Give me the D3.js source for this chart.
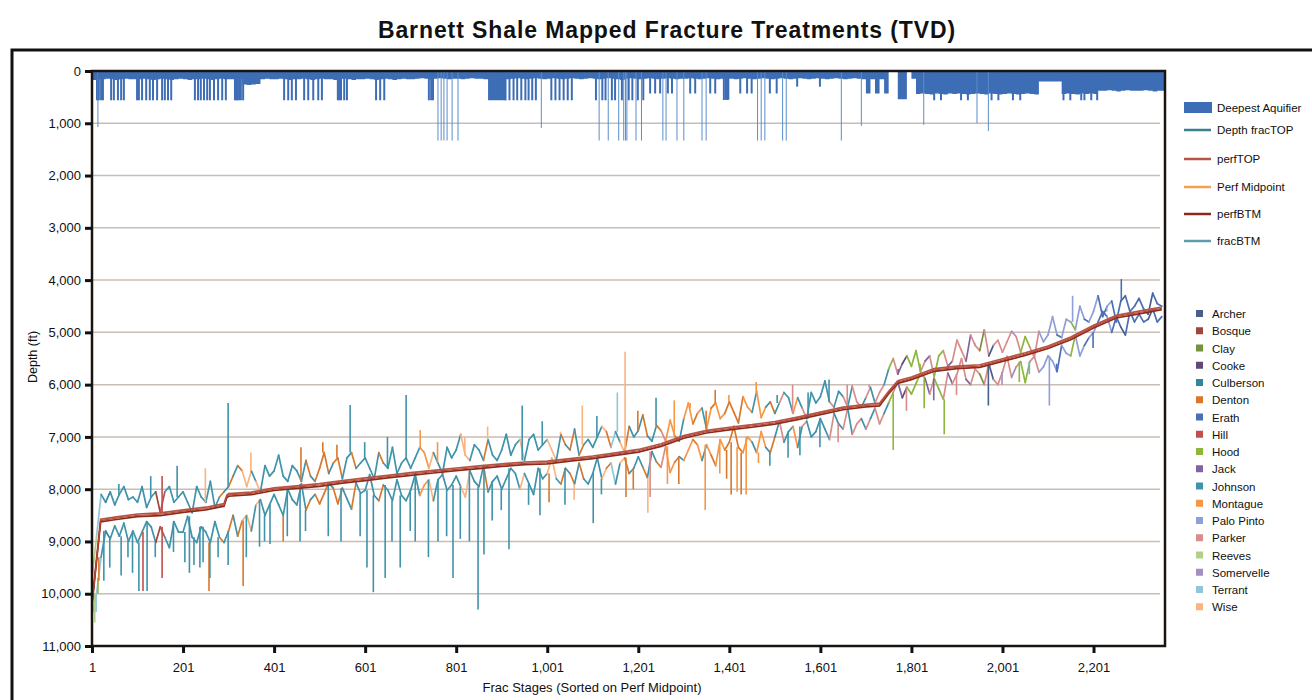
<!DOCTYPE html>
<html><head><meta charset="utf-8">
<script src="https://cdn.jsdelivr.net/npm/d3@7"></script>
<style>body{margin:0;background:#fff;} text{font-family:"Liberation Sans",Arial,Helvetica,sans-serif;fill:#111;}</style>
</head><body><svg id="c" width="1312" height="700"></svg>
<script>
// ---------- DATA ----------
const yTicks = [0,1000,2000,3000,4000,5000,6000,7000,8000,9000,10000,11000];
const xTicks = [1,201,401,601,801,1001,1201,1401,1601,1801,2001,2201];

const seriesNames = ["Deepest Aquifier","Depth fracTOP","perfTOP","Perf Midpoint","perfBTM","fracBTM"];
const seriesColors = ["#3d6db5","#3b7f8e","#b5554a","#f5a04f","#8b2a1a","#5e9caa"];

const countyNames = ["Archer","Bosque","Clay","Cooke","Culberson","Denton","Erath","Hill","Hood","Jack","Johnson","Montague","Palo Pinto","Parker","Reeves","Somervelle","Terrant","Wise"];
const countyCodes = ["A","B","C","K","U","D","E","H","O","J","N","M","P","R","V","S","T","W"];
const countyColors = ["#4a5e8c","#a0453a","#76923c","#5f497a","#31859c","#d8782d","#4a6fb5","#c0504d","#8cb63c","#8064a2","#3f93ab","#f79646","#8f9fd8","#d98d8a","#b3cf8a","#a38fc2","#93c5d8","#f9b47f"];

// perforation lines (stage, depth ft)
const perfStages = [1,8,20,51,101,151,201,251,291,297,301,351,401,451,501,551,601,651,701,751,801,851,901,951,1001,1051,1101,1151,1201,1251,1301,1351,1401,1451,1501,1551,1601,1651,1701,1731,1751,1771,1801,1851,1901,1951,2001,2051,2101,2151,2201,2251,2301,2351];
const perfMid = [10200,9600,8600,8560,8500,8480,8420,8370,8300,8140,8110,8080,8000,7960,7920,7860,7810,7760,7710,7665,7620,7580,7540,7505,7490,7440,7390,7330,7265,7155,7000,6900,6840,6790,6730,6645,6550,6455,6400,6380,6150,5950,5880,5720,5670,5645,5530,5415,5285,5115,4890,4700,4620,4540];
const perfTop = [10170,9570,8575,8535,8475,8455,8395,8345,8275,8115,8085,8055,7975,7935,7895,7835,7785,7735,7685,7640,7595,7555,7515,7480,7465,7415,7365,7305,7240,7130,6975,6875,6815,6765,6705,6620,6525,6430,6375,6355,6125,5925,5855,5695,5645,5620,5505,5390,5260,5090,4865,4675,4595,4515];
const perfBtm = [10230,9630,8625,8585,8525,8505,8445,8395,8325,8165,8135,8105,8025,7985,7945,7885,7835,7785,7735,7690,7645,7605,7565,7530,7515,7465,7415,7355,7290,7180,7025,6925,6865,6815,6755,6670,6575,6480,6425,6405,6175,5975,5905,5745,5695,5670,5555,5440,5310,5140,4915,4725,4645,4565];

// frac stages sampled every 10th stage
const fracStages = d3.range(1, 2352, 10);
const fracTop = [
9700,8900,8100,8250,8050,8300,8100,7950,8200,8150,
8250,7950,8350,8150,8050,8450,8050,7950,8250,8150,
8050,8250,8450,7950,8150,8250,7850,8350,8150,8050,
7950,7750,7550,7650,7950,7650,7850,8050,7550,7750,
7650,7350,7750,7850,7550,7650,7850,7450,7750,7850,
7600,7300,7700,7500,7400,7800,7400,7300,7600,7500,
7400,7600,7800,7300,7500,7600,7200,7700,7500,7400,
7600,7400,7200,7300,7600,7300,7500,7700,7200,7400,
7250,6950,7350,7450,7150,7250,7450,7050,7350,7450,
7250,6950,7350,7150,7050,7450,7050,6950,7250,7150,
7050,7250,7450,6950,7150,7250,6850,7350,7150,7050,
7200,7000,6800,6900,7200,6900,7100,7300,6800,7000,
6880,6580,6980,7080,6780,6880,7080,6680,6980,7080,
6650,6350,6750,6550,6450,6850,6450,6350,6650,6550,
6330,6530,6730,6230,6430,6530,6130,6630,6430,6330,
6550,6350,6150,6250,6550,6250,6450,6650,6150,6350,
6230,5930,6330,6430,6130,6230,6430,6030,6330,6430,
6250,6050,6350,6150,6000,5700,5500,5800,5600,5450,
5650,5350,5750,5550,5450,5850,5450,5350,5650,5550,
5150,5350,5550,5050,5250,5350,4950,5450,5250,5150,
5380,5180,4980,5080,5380,5080,5280,5480,4980,5180,
5050,4700,5050,5100,4750,4800,4950,4500,4750,4800,
4600,4300,4700,4500,4400,4800,4400,4300,4600,4500,
4350,4550,4650,4250,4450,4500];
const fracBtm = [
10400,10000,9300,8800,8950,8700,8900,8650,9000,8800,
9020,8820,8620,8720,9020,8720,8920,9120,8620,8820,
8820,8520,8920,9020,8720,8820,9020,8620,8920,9020,
8800,8500,8900,8600,8500,8800,8300,8200,8500,8300,
8100,8300,8500,8000,8200,8300,7900,8400,8200,8100,
8280,8080,7880,7980,8280,7980,8180,8380,7880,8080,
8020,7720,8120,8220,7920,8020,8220,7820,8120,8220,
8020,7720,8120,7920,7820,8220,7820,7720,8020,7920,
7750,7950,8150,7650,7850,7950,7550,8050,7850,7750,
8000,7800,7600,7700,8000,7700,7900,8100,7600,7800,
7700,7400,7800,7900,7600,7700,7900,7500,7800,7900,
7700,7400,7800,7600,7500,7900,7500,7400,7700,7600,
7380,7580,7780,7280,7480,7580,7180,7680,7480,7380,
7450,7250,7050,7150,7450,7150,7350,7550,7050,7250,
7100,6800,7200,7300,7000,7100,7300,6900,7200,7300,
7000,6700,7100,6900,6800,7200,6800,6700,7000,6900,
6650,6850,7050,6550,6750,6850,6450,6950,6750,6650,
6850,6650,6450,6750,6550,6350,6150,5950,6250,6050,
6180,5980,5780,5880,6180,5880,6080,6280,5780,5980,
5800,5500,5900,6000,5700,5800,6000,5600,5900,6000,
5760,5460,5860,5660,5560,5960,5560,5460,5760,5660,
5450,5550,5750,5250,5400,5450,5050,5450,5250,5100,
5000,4800,4600,4700,5000,4700,4900,5050,4600,4800,
4650,4800,4750,4550,4800,4700];
// county of each sampled stage (codes above)
const sampleCounty = (
"VTNUNNNNNN"+"NNNNBHNNNN"+"NNNNNNNNDN"+"DNDWWNWNNN"+"NNNNNNNDND"+
"DDNDDNNDNN"+"NNNDNNNNNN"+"NNMMWNNNNN"+"NWWNNNDNNN"+"NNNNWNNNNN"+
"WWNDNDNDNN"+"NNWDTNWDNN"+"NDNNDRMMDN"+"MMDMNMDMMD"+"DDDMMNMMND"+
"NRNNMNRNNN"+"NNRNNRNRRN"+"RNRRNORJKO"+"OORJROORJR"+"RRJRRCRARR"+
"RRSROORRPP"+"PPEPPOPPEP"+"PEEPEEAEEE"+"EEAEEE").split("");

// single-stage frac spikes [stage, depth, county]
const spikes = [
[7,10550,"V"],[10,10350,"T"],[14,9700,"O"],[16,9750,"D"],[27,9750,"N"],[40,9500,"N"],[60,7900,"N"],[65,9650,"N"],[80,9300,"N"],[90,9600,"N"],
[104,9950,"N"],[113,9950,"H"],[122,9950,"N"],[130,7750,"N"],[140,9300,"N"],[155,9700,"H"],[155,7750,"H"],[180,9200,"N"],[188,7550,"N"],[205,9400,"N"],
[215,9600,"N"],[225,9450,"N"],[238,9500,"N"],[245,9400,"N"],[250,7600,"W"],[258,9950,"D"],[260,9700,"N"],[278,9300,"N"],[300,6350,"N"],[300,9450,"N"],
[333,9850,"D"],[340,9300,"N"],[350,7300,"W"],[369,9100,"N"],[380,9000,"N"],[392,9050,"N"],[421,9000,"D"],[430,8900,"N"],[458,9000,"N"],[460,7200,"D"],
[470,8800,"N"],[508,7100,"D"],[520,8900,"N"],[539,7150,"D"],[548,9000,"N"],[568,6390,"N"],[590,8900,"N"],[600,7100,"N"],[605,9500,"N"],[619,9970,"N"],
[645,9700,"N"],[650,7000,"N"],[660,9000,"N"],[678,9500,"N"],[691,6200,"N"],[700,8800,"N"],[711,9000,"N"],[722,6870,"M"],[740,9300,"N"],[760,7100,"M"],
[761,9000,"N"],[780,8900,"N"],[794,9700,"N"],[810,8950,"N"],[820,7000,"W"],[830,9000,"N"],[849,10300,"N"],[862,9250,"N"],[870,6800,"W"],[880,8600,"N"],
[900,8400,"N"],[917,9150,"N"],[946,6400,"N"],[960,8300,"N"],[985,8500,"N"],[990,6700,"N"],[1005,8250,"D"],[1030,6900,"W"],[1040,8300,"N"],[1060,8200,"W"],
[1078,6400,"W"],[1102,8650,"N"],[1110,6600,"N"],[1120,8100,"N"],[1155,6150,"T"],[1172,5370,"W"],[1174,8150,"D"],[1190,8000,"D"],[1200,6500,"D"],
[1222,8450,"W"],[1227,8150,"R"],[1240,6250,"N"],[1265,7900,"M"],[1280,6300,"M"],[1290,7900,"D"],[1315,6450,"M"],[1348,8400,"M"],[1350,6500,"D"],
[1370,6100,"D"],[1380,7700,"M"],[1395,7800,"D"],[1400,6200,"M"],[1405,8100,"D"],[1418,8050,"M"],[1427,8100,"D"],[1438,8100,"M"],[1460,5950,"M"],
[1465,7500,"M"],[1490,7550,"N"],[1506,6200,"N"],[1530,7400,"N"],[1540,6000,"R"],[1556,7350,"N"],[1574,6150,"N"],[1600,7200,"N"],[1620,5900,"N"],
[1640,7100,"R"],[1660,6000,"R"],[1708,6000,"R"],[1761,7250,"O"],[1772,5700,"J"],[1790,6500,"R"],[1820,5600,"O"],[1829,6450,"O"],[1850,6300,"J"],
[1873,6950,"O"],[1900,6200,"R"],[1940,5200,"R"],[1970,6400,"A"],[2000,6000,"S"],[2038,5950,"O"],[2060,5800,"P"],[2104,6400,"P"],[2120,5600,"E"],
[2155,4300,"P"],[2200,5300,"E"],[2230,4600,"P"],[2262,3980,"E"],[2300,4400,"E"]];

// deepest aquifer (ft) at each sampled stage
const aquiferBase = [
170,160,160,150,160,170,160,150,160,160,
160,150,160,170,160,150,160,170,160,150,
160,170,160,160,150,160,170,160,150,160,
160,160,150,260,270,260,250,160,150,160,
160,150,160,170,160,160,150,160,170,160,
150,160,160,170,160,150,160,170,160,160,
150,160,170,160,150,160,170,160,150,160,
160,150,140,150,160,150,140,150,160,150,
150,160,150,140,150,150,160,560,560,560,
560,160,150,140,150,160,150,140,150,160,
150,140,150,160,150,140,150,160,150,140,
150,160,150,140,150,160,170,150,140,150,
160,150,140,150,160,150,140,150,160,150,
150,140,150,160,150,140,150,160,150,550,
150,160,150,140,150,160,150,140,150,160,
150,140,150,160,150,140,150,160,150,140,
150,160,150,140,150,160,150,140,150,160,
430,160,430,160,430,0,0,540,540,0,
150,440,430,440,450,430,440,450,430,440,
430,440,450,440,430,440,450,430,440,450,
440,430,440,450,440,430,440,450,200,200,
200,200,200,440,430,440,450,430,440,430,
440,380,380,370,380,390,380,370,380,380,
380,370,380,390,380,380];
// single-stage aquifer drops [stage, depth]
const aquiferDrops = [
[12,560],[14,1070],[16,560],[21,560],[25,560],[43,560],[49,560],[58,560],[65,560],[71,560],
[100,560],[104,560],[111,560],[120,560],[128,560],[135,560],[144,560],[155,560],[161,560],[168,560],[175,560],
[227,560],[234,560],[240,560],[247,560],[254,560],[260,560],[269,560],[278,560],[287,560],[295,560],
[315,560],[318,560],[320,560],[324,560],[328,560],[333,560],[423,560],[432,560],[440,560],[449,560],
[467,560],[476,560],[487,560],[498,560],[506,560],[541,560],[544,560],[548,560],[555,560],[561,560],
[625,560],[634,560],[643,560],[741,560],[746,560],[750,560],
[761,1330],[768,1330],[774,1330],[781,1330],[792,1330],[805,1330],
[909,560],[918,560],[927,560],[935,560],[944,560],[953,560],[960,560],[968,560],[976,560],[988,1090],
[1010,560],[1019,560],[1028,560],[1037,560],[1046,560],[1055,560],
[1108,560],[1115,1330],[1122,560],[1129,560],[1135,1330],[1143,560],[1150,560],[1158,1330],[1165,560],[1169,1330],
[1173,1330],[1176,1330],[1180,560],[1188,560],[1196,1330],[1200,560],[1208,1330],[1212,560],
[1227,430],[1238,430],[1249,430],[1255,1330],[1262,1330],[1266,430],[1275,430],[1286,1330],[1301,1330],
[1315,430],[1326,430],[1341,1330],[1350,1330],[1359,430],[1370,430],[1389,555],[1396,555],
[1425,430],[1440,430],[1450,430],[1463,1330],[1471,1330],[1479,1330],[1490,430],[1505,430],[1518,1330],[1526,1330],
[1550,300],[1600,300],[1647,1330],[1691,1050],
[1828,1030],[1851,560],[1866,560],[1910,560],[1925,560],[1945,1000],[1970,1150],[1977,560],[1992,560],[2024,560],[2040,560],
[2135,560],[2150,560],[2174,560],[2181,560],[2196,560],[2209,560],[2357,3650]];

// ---------- DRAW ----------
const svg = d3.select("#c");
const L = 92, R = 1165, T = 71, B = 646;
const x = d3.scaleLinear().domain([1, 2358]).range([L, R]);
const y = d3.scaleLinear().domain([0, 11000]).range([T, B]);
const colorOf = d3.scaleOrdinal().domain(countyCodes).range(countyColors);
const perfAt = d3.scaleLinear().domain(perfStages).range(perfMid);

// outer frame
svg.append("path").attr("d", `M12,700V50H1312`).attr("fill","none").attr("stroke","#111").attr("stroke-width",3);

// title
svg.append("text").attr("x",667).attr("y",38).attr("text-anchor","middle")
  .attr("font-size",23).attr("font-weight","bold").attr("letter-spacing",0.9)
  .text("Barnett Shale Mapped Fracture Treatments (TVD)");

// gridlines
svg.append("g").selectAll("line").data(yTicks.filter(d => d > 0 && d < 11000)).join("line")
  .attr("x1", L).attr("x2", R - 5).attr("y1", d => y(d)).attr("y2", d => y(d))
  .attr("stroke","#c9bdb5").attr("stroke-width",1.5);

// aquifer
const aqData = fracStages.map((s,i) => [s, aquiferBase[i]]);
aqData.push([2358, aquiferBase[aquiferBase.length-1]]);
svg.append("path").datum(aqData)
  .attr("d", d3.area().x(d => x(d[0])).y0(y(0)).y1(d => y(d[1])).curve(d3.curveStepAfter))
  .attr("fill", seriesColors[0]);
svg.append("g").selectAll("line").data(aquiferDrops).join("line")
  .attr("x1", d => x(d[0])).attr("x2", d => x(d[0]))
  .attr("y1", y(0)).attr("y2", d => y(d[1]))
  .attr("stroke", d => d[1] > 800 ? "#5a8dcc" : seriesColors[0])
  .attr("stroke-width", d => d[1] > 800 ? 1 : 2);

// frac traces coloured by county
function traceSegments(vals, w) {
  const segs = d3.range(vals.length - 1).map(k => ({
    x1: x(fracStages[k]), y1: y(vals[k]), x2: x(fracStages[k+1]), y2: y(vals[k+1]), c: sampleCounty[k]
  }));
  svg.append("g").selectAll("line").data(segs).join("line")
    .attr("x1", d => d.x1).attr("y1", d => d.y1).attr("x2", d => d.x2).attr("y2", d => d.y2)
    .attr("stroke", d => colorOf(d.c)).attr("stroke-width", w).attr("stroke-linecap","round");
}
traceSegments(fracBtm, 1.7);
traceSegments(fracTop, 1.7);

// spikes
svg.append("g").selectAll("line").data(spikes).join("line")
  .attr("x1", d => x(d[0])).attr("x2", d => x(d[0]))
  .attr("y1", d => {
    const k = Math.min(fracStages.length - 1, Math.round((d[0] - 1) / 10));
    return y(d[1] < perfAt(d[0]) ? fracTop[k] : fracBtm[k]);
  })
  .attr("y2", d => y(d[1]))
  .attr("stroke", d => colorOf(d[2])).attr("stroke-width", 1.6);

// perf lines
const perfLine = arr => d3.line().x((d,i) => x(perfStages[i])).y(d => y(d))(arr);
svg.append("path").attr("d", perfLine(perfTop)).attr("fill","none").attr("stroke",seriesColors[2]).attr("stroke-width",1.7);
svg.append("path").attr("d", perfLine(perfBtm)).attr("fill","none").attr("stroke",seriesColors[4]).attr("stroke-width",1.7);
svg.append("path").attr("d", perfLine(perfMid)).attr("fill","none").attr("stroke","#b84a36").attr("stroke-width",1.2);

// plot border
svg.append("rect").attr("x",L).attr("y",T).attr("width",R-L).attr("height",B-T)
  .attr("fill","none").attr("stroke","#1a1410").attr("stroke-width",2.5);

// axes
const ya = svg.append("g").attr("transform",`translate(${L},0)`)
  .call(d3.axisLeft(y).tickValues(yTicks).tickFormat(d3.format(",")).tickSize(7).tickPadding(4));
ya.select(".domain").remove();
ya.selectAll(".tick line").attr("stroke","#111").attr("stroke-width",3);
ya.selectAll(".tick text").attr("font-size",13).attr("fill","#111").attr("font-family","Liberation Sans, Arial, sans-serif");

const xa = svg.append("g").attr("transform",`translate(0,${B})`)
  .call(d3.axisBottom(x).tickValues(xTicks).tickFormat(d3.format(",")).tickSize(7).tickPadding(10));
xa.select(".domain").remove();
xa.selectAll(".tick line").attr("stroke","#111").attr("stroke-width",3);
xa.selectAll(".tick text").attr("font-size",13).attr("fill","#111").attr("font-family","Liberation Sans, Arial, sans-serif");

// axis titles
svg.append("text").attr("transform","translate(37,357) rotate(-90)").attr("text-anchor","middle")
  .attr("font-size",12.5).text("Depth (ft)");
svg.append("text").attr("x",592).attr("y",692).attr("text-anchor","middle")
  .attr("font-size",13).text("Frac Stages (Sorted on Perf Midpoint)");

// series legend
const legY = [108,130,159,187,214,241];
const sl = svg.append("g").selectAll("g").data(seriesNames).join("g")
  .attr("transform", (d,i) => `translate(1184,${legY[i]})`);
sl.each(function(d,i){
  const g = d3.select(this);
  if (i === 0) g.append("rect").attr("x",0).attr("y",-6).attr("width",28).attr("height",11).attr("fill",seriesColors[0]);
  else g.append("line").attr("x1",0).attr("x2",27).attr("y1",0).attr("y2",0).attr("stroke",seriesColors[i]).attr("stroke-width",2.5);
  g.append("text").attr("x",33).attr("y",4).attr("font-size",11.5).text(d);
});

// county legend
const cl = svg.append("g").selectAll("g").data(countyNames).join("g")
  .attr("transform", (d,i) => `translate(1196,${314 + i*17.25})`);
cl.append("rect").attr("x",0).attr("y",-4).attr("width",7).attr("height",7).attr("fill",(d,i)=>countyColors[i]);
cl.append("text").attr("x",16).attr("y",4).attr("font-size",11.5).text(d => d);
</script>
</body></html>
